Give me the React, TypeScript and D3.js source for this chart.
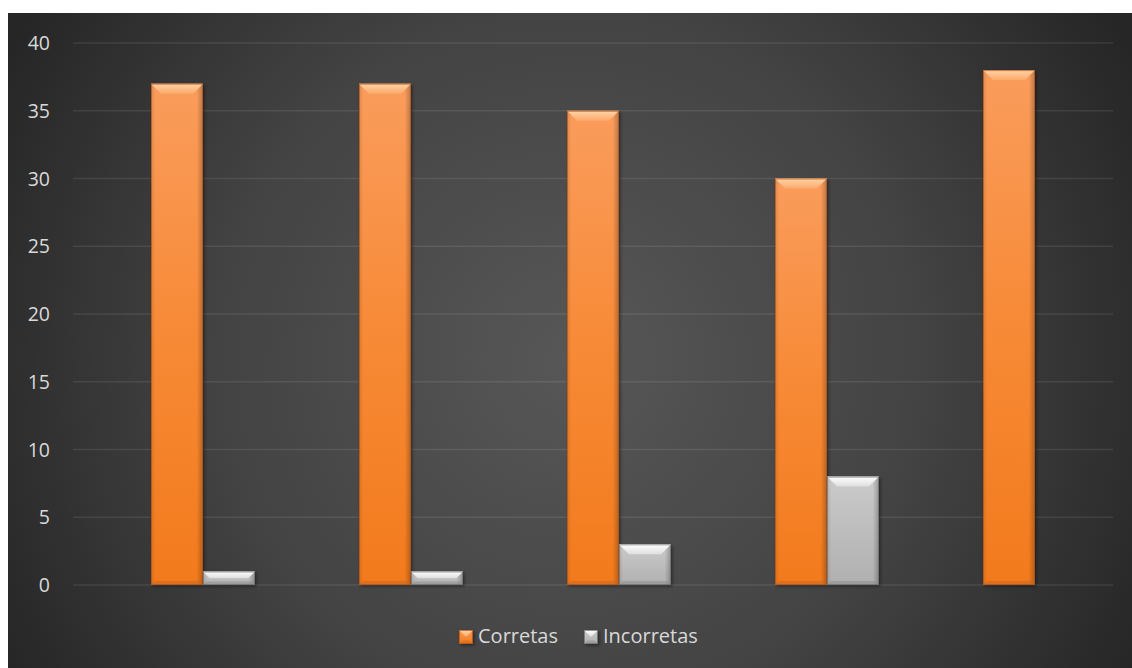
import React from "react";
import * as d3 from "d3";

const categories = ["1", "2", "3", "4", "5"];
const seriesNames = ["Corretas", "Incorretas"];
const corretas = [37, 37, 35, 30, 38];
const incorretas = [1, 1, 3, 8, 0];
const yTicks = [0, 5, 10, 15, 20, 25, 30, 35, 40];
// Excel cluster slots: an empty first slot precedes the two visible series
const clusterSlots = ["(vazio)", "Corretas", "Incorretas"];

const W = 1132;
const H = 668;

const palette: Record<string, { top: string; mid: string; bot: string; bevel: string; bevel2: string; edge: string; shadowEdge: string }> = {
  Corretas: { top: "#fa9c5c", mid: "#f78a36", bot: "#f27a1c", bevel: "#ffd4a8", bevel2: "#fcaa6a", edge: "#c9651c", shadowEdge: "#a8531a" },
  Incorretas: { top: "#cbcbcb", mid: "#bdbdbd", bot: "#b0b0b0", bevel: "#ffffff", bevel2: "#dedede", edge: "#8a8a8a", shadowEdge: "#6a6a6a" },
};

function BevelBar({ x, y, w, h, s }: { x: number; y: number; w: number; h: number; s: string }) {
  if (h <= 0) return null;
  const c = palette[s];
  const b = Math.min(10, h / 2, w / 2);
  const bb = Math.min(4, h / 4);
  return (
    <g>
      <rect x={x + 1.5} y={y + 1.5} width={w} height={h} fill="#000" opacity={0.4} filter="url(#blur)" />
      <rect x={x} y={y} width={w} height={h} fill={`url(#v-${s})`} />
      <rect x={x} y={y} width={w} height={h} fill="url(#hEdge)" />
      <polygon points={`${x},${y} ${x + w},${y} ${x + w - b},${y + b} ${x + b},${y + b}`} fill={`url(#bev-${s})`} />
      <polygon points={`${x},${y + h} ${x + w},${y + h} ${x + w - bb},${y + h - bb} ${x + bb},${y + h - bb}`} fill={c.edge} opacity={0.5} />
      <rect x={x + 0.5} y={y + 0.5} width={w - 1} height={h - 1} fill="none" stroke={c.shadowEdge} strokeWidth={1} opacity={0.7} />
    </g>
  );
}

export default function App() {
  const plotLeft = 73;
  const plotRight = 1113;
  const y = d3.scaleLinear().domain([0, 40]).range([585, 43]);
  const x0 = d3.scaleBand<string>().domain(categories).range([plotLeft, plotRight]).paddingInner(0).paddingOuter(0);
  const x1 = d3.scaleBand<string>().domain(clusterSlots).range([0, x0.bandwidth()]).paddingInner(0).paddingOuter(0.5);
  const values: Record<string, number[]> = { Corretas: corretas, Incorretas: incorretas };
  const font = "'Open Sans', 'Liberation Sans', sans-serif";

  const legendItems = [
    { name: seriesNames[0], sx: 459, tx: 478 },
    { name: seriesNames[1], sx: 584, tx: 603 },
  ];

  return (
    <svg width={W} height={H} style={{ position: "absolute", left: 0, top: 0 }} xmlns="http://www.w3.org/2000/svg">
      <defs>
        <radialGradient id="bg" cx="570" cy="360" r="640" gradientUnits="userSpaceOnUse">
          <stop offset="0" stopColor="#575757" />
          <stop offset="0.55" stopColor="#434343" />
          <stop offset="1" stopColor="#262626" />
        </radialGradient>
        <filter id="blur" x="-20%" y="-20%" width="140%" height="140%">
          <feGaussianBlur stdDeviation="1.5" />
        </filter>
        <linearGradient id="hEdge" x1="0" x2="1" y1="0" y2="0">
          <stop offset="0" stopColor="#000" stopOpacity="0.12" />
          <stop offset="0.08" stopColor="#000" stopOpacity="0" />
          <stop offset="0.88" stopColor="#000" stopOpacity="0" />
          <stop offset="1" stopColor="#000" stopOpacity="0.25" />
        </linearGradient>
        {Object.keys(palette).map((s) => (
          <React.Fragment key={s}>
            <linearGradient id={`v-${s}`} x1="0" x2="0" y1="0" y2="1">
              <stop offset="0" stopColor={palette[s].top} />
              <stop offset="0.5" stopColor={palette[s].mid} />
              <stop offset="1" stopColor={palette[s].bot} />
            </linearGradient>
            <linearGradient id={`bev-${s}`} x1="0" x2="0" y1="0" y2="1">
              <stop offset="0" stopColor={palette[s].bevel} />
              <stop offset="1" stopColor={palette[s].bevel2} />
            </linearGradient>
          </React.Fragment>
        ))}
      </defs>
      <rect x={0} y={0} width={W} height={H} fill="#ffffff" />
      <rect x={8} y={13} width={W - 8} height={H - 13} fill="url(#bg)" />

      {yTicks.map((t) => (
        <g key={t}>
          <line x1={plotLeft} x2={plotRight} y1={y(t)} y2={y(t)} stroke="#ffffff" strokeOpacity={0.09} strokeWidth={1.5} />
          <text x={50} y={y(t) + 7} textAnchor="end" fontFamily={font} fontSize={19.5} fill="#d9d9d9">
            {t}
          </text>
        </g>
      ))}

      {categories.map((c, i) => (
        <g key={c}>
          {seriesNames.map((s) => {
            const v = values[s][i];
            const bx = (x0(c) ?? 0) + (x1(s) ?? 0);
            const by = y(v);
            const bh = y(0) - y(v);
            return <BevelBar key={s} x={bx} y={by} w={x1.bandwidth()} h={bh} s={s} />;
          })}
        </g>
      ))}

      {legendItems.map((it) => (
        <g key={it.name}>
          <BevelBar x={it.sx} y={630} w={14} h={14} s={it.name} />
          <text x={it.tx} y={643} fontFamily={font} fontSize={20} fill="#d9d9d9">
            {it.name}
          </text>
        </g>
      ))}
    </svg>
  );
}
